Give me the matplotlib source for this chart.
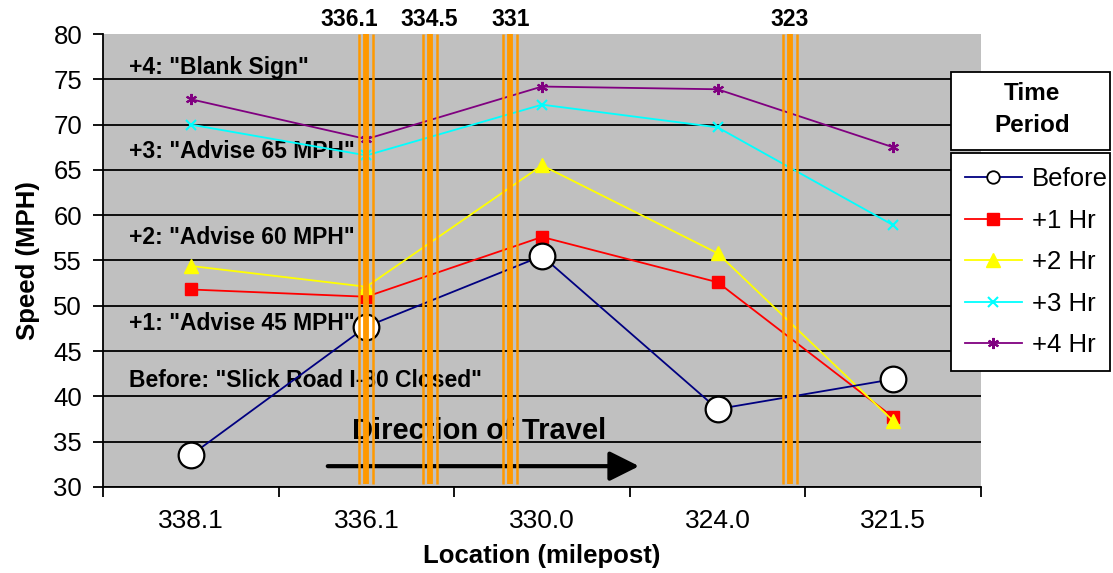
import matplotlib
matplotlib.use("Agg")
import matplotlib.pyplot as plt
from matplotlib.lines import Line2D
from matplotlib.patches import Rectangle
from matplotlib.transforms import offset_copy

plt.rcParams['font.family'] = ['Liberation Sans', 'DejaVu Sans']

# speeds by milepost and time period
locations = ["338.1", "336.1", "330.0", "324.0", "321.5"]
before = [33.5, 47.7, 55.5, 38.6, 41.9]
hr1 = [51.8, 51.0, 57.6, 52.6, 37.7]
hr2 = [54.4, 52.1, 65.5, 55.8, 37.3]
hr3 = [70.0, 66.6, 72.2, 69.7, 58.9]
hr4 = [72.8, 68.4, 74.2, 73.9, 67.5]

# message sign locations (milepost) and where they fall on the category axis
sign_labels = ["336.1", "334.5", "331", "323"]
sign_pos = [1.0, 1.36, 1.82, 3.41]

messages = ['+4: "Blank Sign"', '+3: "Advise 65 MPH"', '+2: "Advise 60 MPH"',
            '+1: "Advise 45 MPH"', 'Before: "Slick Road I-80 Closed"']
message_y = [75.6, 66.3, 56.8, 47.3, 41.0]

W, H = 1113, 573
fig = plt.figure(figsize=(W / 100, H / 100), dpi=100)
ax = fig.add_axes([103 / W, 1 - 487 / H, (981 - 103) / W, (487 - 34) / H])
ax.set_facecolor("#C0C0C0")

x = list(range(len(locations)))
ax.plot(x, before, color="#000080", lw=1.3, marker="o", ms=18.5, mfc="white",
        mec="black", mew=1.6, zorder=4)
ax.plot(x, hr1, color="#FF0000", lw=1.3, marker="s", ms=8.5, zorder=3)
ax.plot(x, hr2, color="#FFFF00", lw=1.3, marker="^", ms=10, zorder=3)
ax.plot(x, hr3, color="#00FFFF", lw=1.3, marker="x", ms=7, mew=1.5, zorder=3)
ax.plot(x, hr4, color="#800080", lw=1.3, marker=(6, 2, 0), ms=8, mew=1.5, zorder=3)

ax.set_xlim(-0.5, 4.5)
ax.set_ylim(30, 80)
ax.set_yticks(range(30, 81, 5))
ax.set_xticks(x)
ax.set_xticklabels(locations)
ax.set_xticks([i - 0.5 for i in range(len(locations) + 1)], minor=True)
ax.tick_params(axis="x", which="major", length=0, pad=16, labelsize=19)
ax.tick_params(axis="x", which="minor", length=7, width=1.3, direction="out")
ax.tick_params(axis="y", length=7, width=1.3, direction="out", pad=8, labelsize=18.5)

ax.yaxis.grid(True, color="black", lw=1.3)
ax.yaxis.get_gridlines()[-1].set_visible(False)
ax.set_axisbelow(True)
for s in ["top", "right"]:
    ax.spines[s].set_visible(False)
for s in ["left", "bottom"]:
    ax.spines[s].set_linewidth(1.3)

ax.set_xlabel("Location (milepost)", fontsize=18.5, fontweight="bold")
ax.set_ylabel("Speed (MPH)", fontsize=18.5, fontweight="bold")
ax.xaxis.set_label_coords(0.5, -0.125)
ax.yaxis.set_label_coords(-0.072, 0.5)

# sign messages
for msg, yy in zip(messages, message_y):
    ax.text(-0.353, yy, msg, fontsize=16.5, fontweight="bold", va="baseline",
            ha="left", zorder=2.5)

# direction of travel
ax.text(0.917, 35.3, "Direction of Travel", fontsize=21, fontweight="bold",
        va="baseline", ha="left", zorder=2.5)
ax.annotate("", xy=(2.553, 32.3), xytext=(0.78, 32.3),
            arrowprops=dict(arrowstyle="-|>,head_length=1.0,head_width=0.5",
                            lw=3, color="black", shrinkA=0, shrinkB=0,
                            mutation_scale=18),
            zorder=2.5)

# sign location bars: thick centre line with thin lines either side
trans = ax.get_xaxis_transform()
for p, lab in zip(sign_pos, sign_labels):
    ax.plot([p, p], [0.006, 1], transform=trans, color="#FF9900", lw=4.2,
            zorder=6, solid_capstyle="butt")
    for dx in (-7, 7):
        t = offset_copy(trans, fig=fig, x=dx, y=0, units="dots")
        ax.plot([p, p], [0.006, 1], transform=t, color="#FF9900", lw=1.8,
                zorder=6, solid_capstyle="butt")
    lx = p - 0.1 if lab == "336.1" else p
    ax.text(lx, 1.018, lab, transform=trans, ha="center", va="baseline",
            fontsize=16.5, fontweight="bold", clip_on=False)

# legend: title box on top of the entries box
fig.patches.append(Rectangle((951 / W, 1 - 150 / H), (1110 - 951) / W, (150 - 72) / H,
                             transform=fig.transFigure, facecolor="white",
                             edgecolor="black", lw=1.3, zorder=10))
fig.text(1032 / W, 1 - 110 / H, "Time\nPeriod", ha="center", va="center",
         fontsize=17.5, fontweight="bold", linespacing=1.5, zorder=11)

handles = [
    Line2D([], [], color="#000080", lw=1.3, marker="o", ms=9, mfc="white", mec="black", mew=1.3),
    Line2D([], [], color="#FF0000", lw=1.3, marker="s", ms=8),
    Line2D([], [], color="#FFFF00", lw=1.3, marker="^", ms=10),
    Line2D([], [], color="#00FFFF", lw=1.3, marker="x", ms=7, mew=1.5),
    Line2D([], [], color="#800080", lw=1.3, marker=(6, 2, 0), ms=8, mew=1.5),
]
leg = fig.legend(handles, ["Before", "+1 Hr", "+2 Hr", "+3 Hr", "+4 Hr"],
                 loc="upper left",
                 bbox_to_anchor=(951 / W, 1 - 153 / H, (1110 - 951) / W, 0),
                 bbox_transform=fig.transFigure, mode="expand", borderaxespad=0,
                 fontsize=18.5, frameon=True, fancybox=False, framealpha=1,
                 edgecolor="black", handlelength=2.2, handletextpad=0.4,
                 labelspacing=0.68, borderpad=0.55)
leg.get_frame().set_linewidth(1.3)
leg.set_zorder(10)

fig.savefig("out.png", dpi=100)
